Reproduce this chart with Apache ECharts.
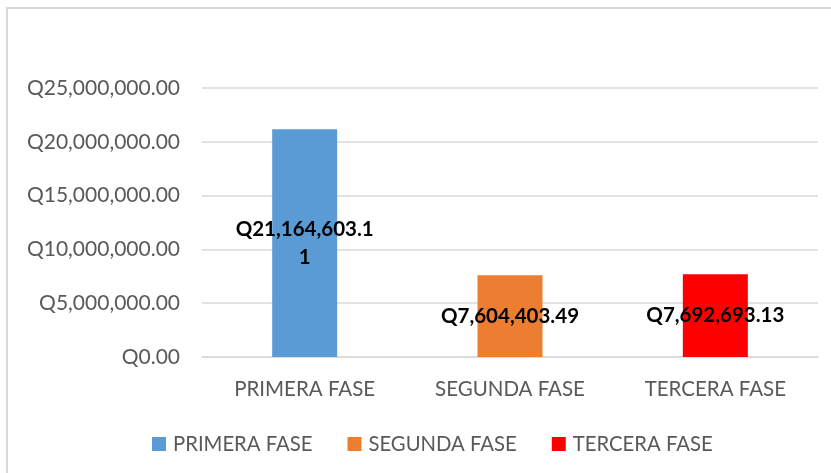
<!DOCTYPE html>
<html>
<head>
<meta charset="utf-8">
<script src="https://cdn.jsdelivr.net/npm/echarts@6/dist/echarts.min.js"></script>
<style>
  html, body { margin: 0; padding: 0; background: #ffffff; }
  #chart { width: 831px; height: 473px; }
</style>
</head>
<body>
<div id="chart"></div>
<script>
// Project phases and their amounts (quetzales)
const categories = ['PRIMERA FASE', 'SEGUNDA FASE', 'TERCERA FASE'];
const amounts = [21164603.11, 7604403.49, 7692693.13];
const phaseColors = ['#5b9bd5', '#ed7d31', '#ff0000'];

const FONT = 'Lato, "Open Sans", sans-serif';

function money(v) {
  return 'Q' + Number(v).toLocaleString('en-US', { minimumFractionDigits: 2, maximumFractionDigits: 2 });
}
// Long amounts wrap onto a second line after 13 characters
function wrapMoney(v) {
  const s = money(v);
  return s.length > 13 ? s.slice(0, 13) + '\n' + s.slice(13) : s;
}

const series = categories.map((name, i) => ({
  name: name,
  type: 'bar',
  stack: 'fase',
  barWidth: 65,
  itemStyle: { color: phaseColors[i] },
  data: categories.map((c, j) => (j === i ? amounts[i] : '-')),
  label: {
    show: true,
    position: 'inside',
    formatter: p => wrapMoney(p.value),
    color: '#000000',
    fontFamily: FONT,
    fontWeight: 'bold',
    fontSize: 20.5,
    lineHeight: 28
  }
}));

const chart = echarts.init(document.getElementById('chart'), null, { renderer: 'canvas' });
chart.setOption({
  animation: false,
  backgroundColor: '#ffffff',
  graphic: [{
    type: 'rect',
    shape: { x: 7, y: 8, width: 900, height: 600 },
    style: { fill: 'none', stroke: '#d9d9d9', lineWidth: 2 },
    z: -1
  }],
  grid: { left: 202, right: 13, top: 88, bottom: 116 },
  legend: {
    top: 434,
    left: 152,
    padding: 0,
    icon: 'rect',
    itemWidth: 14,
    itemHeight: 14,
    itemGap: 35,
    textStyle: { fontFamily: FONT, fontSize: 20.3, color: '#595959', padding: [0, 0, 0, 2] },
    data: categories
  },
  xAxis: {
    type: 'category',
    data: categories,
    axisLine: { show: true, lineStyle: { color: '#d9d9d9', width: 1.5 } },
    axisTick: { show: false },
    axisLabel: { fontFamily: FONT, fontSize: 20.5, color: '#595959', margin: 22 }
  },
  yAxis: {
    type: 'value',
    min: 0,
    max: 25000000,
    interval: 5000000,
    axisLine: { show: false },
    axisTick: { show: false },
    splitLine: { lineStyle: { color: '#d9d9d9', width: 1.5 } },
    axisLabel: { fontFamily: FONT, fontSize: 21, color: '#595959', margin: 22, formatter: v => money(v) }
  },
  series: series
});
</script>
</body>
</html>
